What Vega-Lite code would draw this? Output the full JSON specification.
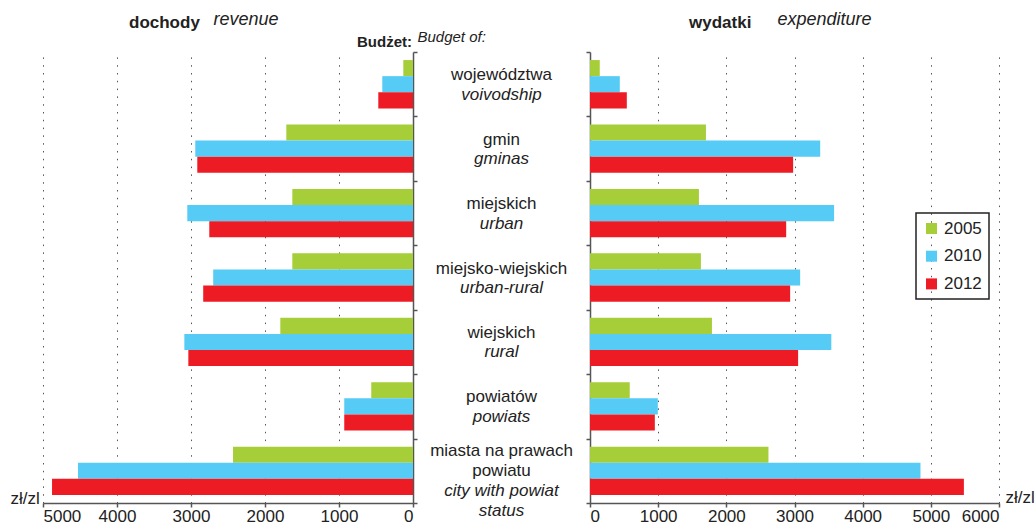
{
  "$schema": "https://vega.github.io/schema/vega-lite/v6.json",
  "background": "white",
  "padding": {"left": 10, "top": 10, "right": 0, "bottom": 0},
  "bounds": "flush",
  "spacing": 0,
  "resolve": {"legend": {"color": "independent"}},
  "config": {
    "font": "Liberation Sans",
    "view": {"stroke": null},
    "axis": {
      "domainColor": "#555", "tickColor": "#555", "domainWidth": 1.5, "tickWidth": 1.5,
      "labelFont": "Liberation Sans", "labelFontSize": 17, "labelColor": "#222",
      "titleFont": "Liberation Sans", "titleColor": "#222"
    },
    "title": {"font": "Liberation Sans", "color": "#222"}
  },
  "datasets": {
    "budget": [
      {"budget": "województwa", "year": "2005", "revenue": 131, "expenditure": 143},
      {"budget": "województwa", "year": "2010", "revenue": 415, "expenditure": 437},
      {"budget": "województwa", "year": "2012", "revenue": 469, "expenditure": 540},
      {"budget": "gmin", "year": "2005", "revenue": 1712, "expenditure": 1701},
      {"budget": "gmin", "year": "2010", "revenue": 2942, "expenditure": 3377},
      {"budget": "gmin", "year": "2012", "revenue": 2915, "expenditure": 2980},
      {"budget": "miejskich", "year": "2005", "revenue": 1631, "expenditure": 1598},
      {"budget": "miejskich", "year": "2010", "revenue": 3050, "expenditure": 3581},
      {"budget": "miejskich", "year": "2012", "revenue": 2753, "expenditure": 2878},
      {"budget": "miejsko-wiejskich", "year": "2005", "revenue": 1631, "expenditure": 1627},
      {"budget": "miejsko-wiejskich", "year": "2010", "revenue": 2700, "expenditure": 3083},
      {"budget": "miejsko-wiejskich", "year": "2012", "revenue": 2835, "expenditure": 2936},
      {"budget": "wiejskich", "year": "2005", "revenue": 1793, "expenditure": 1789},
      {"budget": "wiejskich", "year": "2010", "revenue": 3090, "expenditure": 3540},
      {"budget": "wiejskich", "year": "2012", "revenue": 3036, "expenditure": 3053},
      {"budget": "powiatów", "year": "2005", "revenue": 564, "expenditure": 583},
      {"budget": "powiatów", "year": "2010", "revenue": 929, "expenditure": 995},
      {"budget": "powiatów", "year": "2012", "revenue": 929, "expenditure": 951},
      {"budget": "miasta na prawach powiatu", "year": "2005", "revenue": 2432, "expenditure": 2618},
      {"budget": "miasta na prawach powiatu", "year": "2010", "revenue": 4527, "expenditure": 4848},
      {"budget": "miasta na prawach powiatu", "year": "2012", "revenue": 4878, "expenditure": 5485}
    ],
    "labels": [
      {"budget": "województwa", "pl": "województwa", "en": "voivodship"},
      {"budget": "gmin", "pl": "gmin", "en": "gminas"},
      {"budget": "miejskich", "pl": "miejskich", "en": "urban"},
      {"budget": "miejsko-wiejskich", "pl": "miejsko-wiejskich", "en": "urban-rural"},
      {"budget": "wiejskich", "pl": "wiejskich", "en": "rural"},
      {"budget": "powiatów", "pl": "powiatów", "en": "powiats"},
      {"budget": "miasta na prawach powiatu", "pl": "miasta na prawach\npowiatu", "en": "city with powiat\nstatus"}
    ]
  },
  "hconcat": [
    {
      "width": 370,
      "height": 451,
      "data": {"name": "budget"},
      "title": {"text": "dochody", "anchor": "start", "frame": "group", "dx": 86, "fontSize": 17, "fontWeight": "bold", "baseline": "alphabetic", "offset": -35},
      "mark": {"type": "bar"},
      "encoding": {
        "y": {
          "field": "budget", "type": "nominal",
          "scale": {"domain": ["województwa", "gmin", "miejskich", "miejsko-wiejskich", "wiejskich", "powiatów", "miasta na prawach powiatu"], "paddingInner": 0, "paddingOuter": 0},
          "axis": {"orient": "right", "labels": false, "tickBand": "extent", "tickSize": 4, "title": "revenue", "titleAngle": 0, "titleX": -200, "titleY": -28, "titleAlign": "left", "titleBaseline": "alphabetic", "titleFontStyle": "italic", "titleFontWeight": "normal", "titleFontSize": 18}
        },
        "yOffset": {"field": "year", "type": "nominal", "scale": {"domain": ["2005", "2010", "2012"], "paddingInner": 0, "paddingOuter": 0.5}},
        "x": {
          "field": "revenue", "type": "quantitative",
          "scale": {"domain": [0, 5000], "reverse": true, "nice": false},
          "axis": {"values": [0, 1000, 2000, 3000, 4000, 5000], "format": "d", "grid": true, "gridDash": [1.5, 6.3], "gridColor": "#555", "tickSize": 4, "labelPadding": 1, "title": "zł/zl", "titleX": -33, "titleY": 0, "titleAlign": "left", "titleBaseline": "alphabetic", "titleFontWeight": "normal", "titleFontSize": 17}
        },
        "color": {"field": "year", "type": "nominal", "scale": {"domain": ["2005", "2010", "2012"], "range": ["#A6CE39", "#55CBF5", "#ED1C24"]}, "legend": null}
      }
    },
    {
      "width": 177,
      "height": 451,
      "data": {"name": "labels"},
      "title": {"text": "Budżet:", "anchor": "start", "frame": "group", "dx": -56, "fontSize": 15, "fontWeight": "bold", "baseline": "alphabetic", "offset": -33},
      "layer": [
        {
          "transform": [{"filter": "datum.budget !== 'miasta na prawach powiatu'"}],
          "mark": {"type": "text", "fontSize": 17, "color": "#222", "baseline": "alphabetic", "dy": -4, "lineBreak": "\n", "lineHeight": 20},
          "encoding": {
            "y": {"field": "budget", "type": "nominal", "scale": {"domain": ["województwa", "gmin", "miejskich", "miejsko-wiejskich", "wiejskich", "powiatów", "miasta na prawach powiatu"], "paddingInner": 0, "paddingOuter": 0},
              "axis": {"labels": false, "ticks": false, "domain": false, "title": "Budget of:", "titleAngle": 0, "titleX": 4, "titleY": -11, "titleAlign": "left", "titleBaseline": "alphabetic", "titleFontStyle": "italic", "titleFontWeight": "normal", "titleFontSize": 15}},
            "text": {"field": "pl"}
          }
        },
        {
          "transform": [{"filter": "datum.budget !== 'miasta na prawach powiatu'"}],
          "mark": {"type": "text", "fontSize": 17, "fontStyle": "italic", "color": "#222", "baseline": "alphabetic", "dy": 15.5, "lineBreak": "\n", "lineHeight": 20},
          "encoding": {
            "y": {"field": "budget", "type": "nominal",
              "axis": {"labels": false, "ticks": false, "domain": false, "title": "Budget of:", "titleAngle": 0, "titleX": 4, "titleY": -11, "titleAlign": "left", "titleBaseline": "alphabetic", "titleFontStyle": "italic", "titleFontWeight": "normal", "titleFontSize": 15}},
            "text": {"field": "en"}
          }
        },
        {
          "transform": [{"filter": "datum.budget === 'miasta na prawach powiatu'"}],
          "mark": {"type": "text", "fontSize": 17, "color": "#222", "baseline": "alphabetic", "dy": -14.5, "lineBreak": "\n", "lineHeight": 19.5},
          "encoding": {
            "y": {"field": "budget", "type": "nominal",
              "axis": {"labels": false, "ticks": false, "domain": false, "title": "Budget of:", "titleAngle": 0, "titleX": 4, "titleY": -11, "titleAlign": "left", "titleBaseline": "alphabetic", "titleFontStyle": "italic", "titleFontWeight": "normal", "titleFontSize": 15}},
            "text": {"field": "pl"}
          }
        },
        {
          "transform": [{"filter": "datum.budget === 'miasta na prawach powiatu'"}],
          "mark": {"type": "text", "fontSize": 17, "fontStyle": "italic", "color": "#222", "baseline": "alphabetic", "dy": 25.5, "lineBreak": "\n", "lineHeight": 19.5},
          "encoding": {
            "y": {"field": "budget", "type": "nominal",
              "axis": {"labels": false, "ticks": false, "domain": false, "title": "Budget of:", "titleAngle": 0, "titleX": 4, "titleY": -11, "titleAlign": "left", "titleBaseline": "alphabetic", "titleFontStyle": "italic", "titleFontWeight": "normal", "titleFontSize": 15}},
            "text": {"field": "en"}
          }
        }
      ]
    },
    {
      "width": 409,
      "height": 451,
      "data": {"name": "budget"},
      "title": {"text": "wydatki", "anchor": "start", "frame": "group", "dx": 99, "fontSize": 17, "fontWeight": "bold", "baseline": "alphabetic", "offset": -35},
      "mark": {"type": "bar"},
      "encoding": {
        "y": {
          "field": "budget", "type": "nominal",
          "scale": {"domain": ["województwa", "gmin", "miejskich", "miejsko-wiejskich", "wiejskich", "powiatów", "miasta na prawach powiatu"], "paddingInner": 0, "paddingOuter": 0},
          "axis": {"orient": "left", "labels": false, "tickBand": "extent", "tickSize": 4, "title": "expenditure", "titleAngle": 0, "titleX": 187, "titleY": -28, "titleAlign": "left", "titleBaseline": "alphabetic", "titleFontStyle": "italic", "titleFontWeight": "normal", "titleFontSize": 18}
        },
        "yOffset": {"field": "year", "type": "nominal", "scale": {"domain": ["2005", "2010", "2012"], "paddingInner": 0, "paddingOuter": 0.5}},
        "x": {
          "field": "expenditure", "type": "quantitative",
          "scale": {"domain": [0, 6000], "nice": false},
          "axis": {"values": [0, 1000, 2000, 3000, 4000, 5000, 6000], "format": "d", "grid": true, "gridDash": [1.5, 6.3], "gridColor": "#555", "tickSize": 4, "labelPadding": 1, "title": "zł/zl", "titleX": 415, "titleY": -1, "titleAlign": "left", "titleBaseline": "alphabetic", "titleFontWeight": "normal", "titleFontSize": 17}
        },
        "color": {
          "field": "year", "type": "nominal",
          "scale": {"domain": ["2005", "2010", "2012"], "range": ["#A6CE39", "#55CBF5", "#ED1C24"]},
          "legend": {"orient": "none", "legendX": 326, "legendY": 161, "title": null, "symbolType": "square", "symbolSize": 121, "symbolStrokeWidth": 0, "labelFontSize": 17, "labelColor": "#222", "labelOffset": 4, "rowPadding": 9.7, "padding": 7, "strokeColor": "#222",
            "encode": {"legend": {"update": {"strokeWidth": {"value": 1.5}}}}}
        }
      }
    }
  ]
}
